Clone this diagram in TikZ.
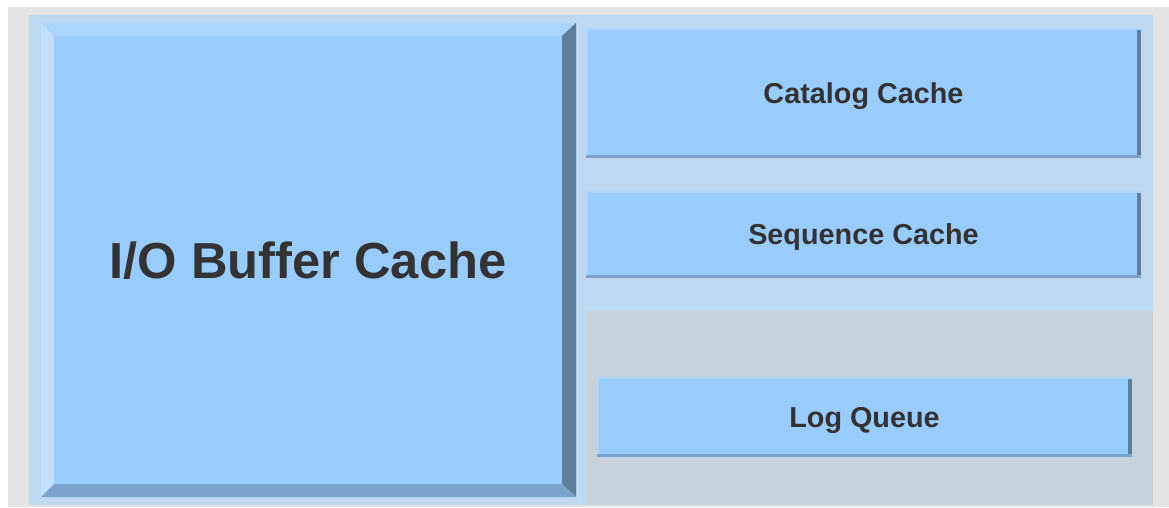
\documentclass[tikz,border=0pt]{standalone}
\usepackage{fontspec}
\setmainfont{Liberation Sans}
\usetikzlibrary{positioning,calc}
\definecolor{pagegray}{HTML}{E4E4E4}
\definecolor{panelblue}{HTML}{BED8EF}
\definecolor{queuegray}{HTML}{C6D1DC}
\definecolor{faceblue}{HTML}{99CCFF}
\definecolor{toplight}{HTML}{AAD5FF}
\definecolor{leftlight}{HTML}{C3E1FF}
\definecolor{rightdark}{HTML}{5E7E9E}
\definecolor{bottomdark}{HTML}{7AA4CD}
\definecolor{labelgray}{HTML}{333333}
\tikzset{
  cachebox/.style={rectangle, fill=faceblue, inner sep=0pt, text=labelgray, text depth=0pt, font=\bfseries\fontsize{21.6}{24}\selectfont},
  bigbox/.style={cachebox, font=\bfseries\fontsize{38}{42}\selectfont},
  hiedge/.style={fill=toplight},
  loedge/.style={fill=rightdark},
  btedge/.style={fill=bottomdark}
}

\begin{document}
\begin{tikzpicture}[x=0.75pt, y=-0.75pt]
  \useasboundingbox (0,0) rectangle (1169,507);
  % background and panels
  \fill[pagegray] (8,7) rectangle (1169,507);
  \fill[panelblue] (29,15) rectangle (1153,505);
  \fill[queuegray] (586,311) rectangle (1153,505);

  % big bevelled box
  \fill[toplight] (41,23) -- (576,23) -- (562,36) -- (54,36) -- cycle;
  \fill[leftlight] (41,23) -- (54,36) -- (54,484) -- (41,497) -- cycle;
  \fill[rightdark] (576,23) -- (576,497) -- (562,484) -- (562,36) -- cycle;
  \fill[bottomdark] (41,497) -- (54,484) -- (562,484) -- (576,497) -- cycle;
  \node[bigbox, minimum width=381pt, minimum height=336pt] (io) at (308,260) {I/O Buffer Cache};

  % small boxes
  \node[cachebox, minimum width=416.25pt, minimum height=97.5pt] (cat) at (863.5,93) {Catalog Cache};
  \node[cachebox, minimum width=416.25pt, minimum height=65.25pt] (seq) at (863.5,234.5) {Sequence Cache};
  \node[cachebox, minimum width=401.25pt, minimum height=60pt] (log) at (864.5,417) {Log Queue};

  \foreach \b in {cat,seq,log}{
    \fill[hiedge] (\b.north west) rectangle ([yshift=-1.5pt]\b.north east);
    \fill[hiedge] (\b.north west) rectangle ([xshift=1.5pt]\b.south west);
    \fill[btedge] ([yshift=2.5pt]\b.south west) rectangle (\b.south east);
    \fill[loedge] ([xshift=-3pt,yshift=-2pt]\b.north east) rectangle ([yshift=2.5pt]\b.south east);
  }
\end{tikzpicture}
\end{document}
